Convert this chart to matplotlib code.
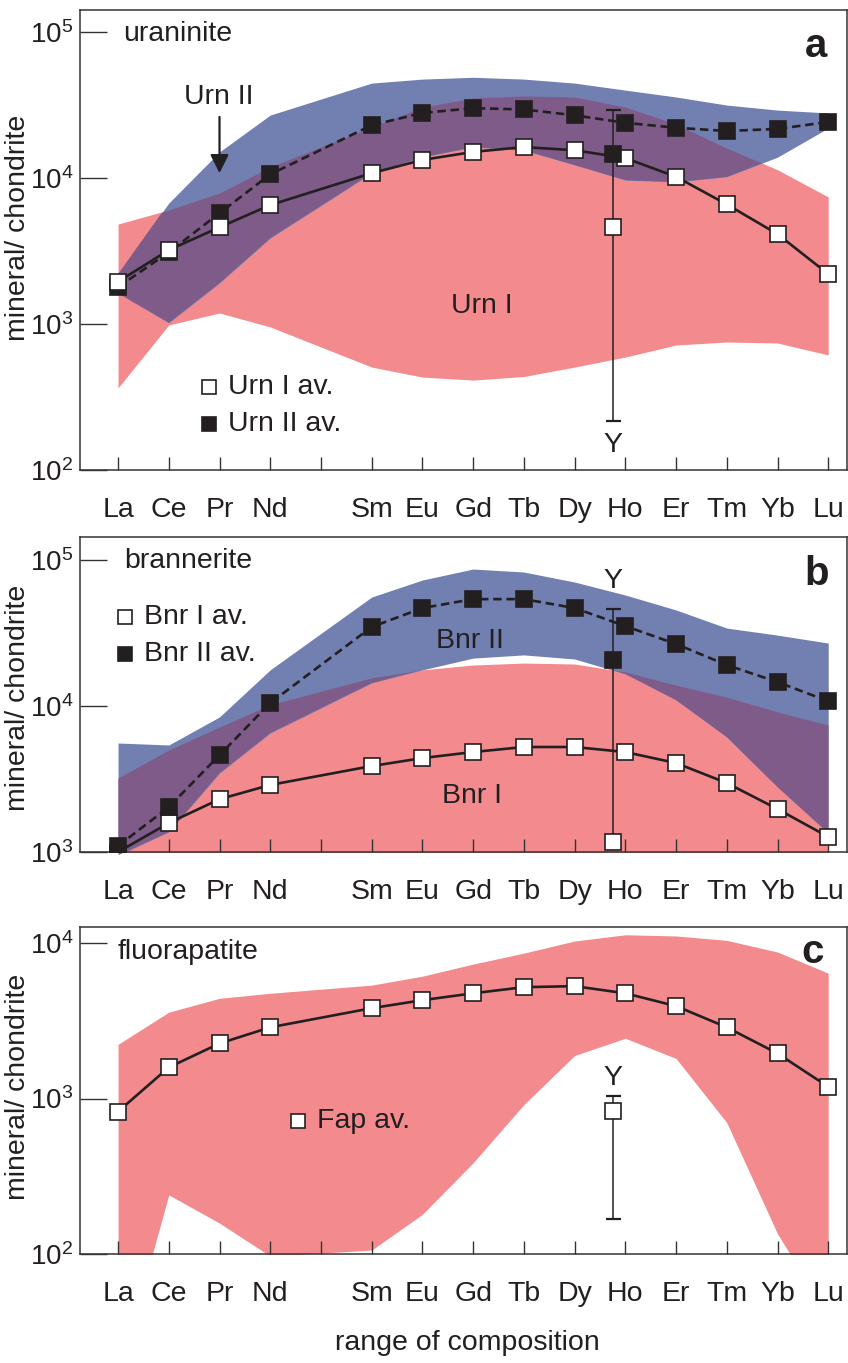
import matplotlib
matplotlib.use('Agg')
import matplotlib.pyplot as plt
from matplotlib.ticker import NullLocator, FixedLocator
import numpy as np

plt.rcParams['font.family'] = ['Liberation Sans', 'DejaVu Sans']
plt.rcParams['mathtext.fontset'] = 'custom'
plt.rcParams['mathtext.rm'] = 'Liberation Sans'
plt.rcParams['mathtext.it'] = 'Liberation Sans:italic'
plt.rcParams['mathtext.bf'] = 'Liberation Sans:bold'

# REE in order, x from atomic number (La=57), Pm has a tick but no data
ree = ['La', 'Ce', 'Pr', 'Nd', 'Sm', 'Eu', 'Gd', 'Tb', 'Dy', 'Ho', 'Er', 'Tm', 'Yb', 'Lu']
z_num = [57, 58, 59, 60, 62, 63, 64, 65, 66, 67, 68, 69, 70, 71]
tick_labels = ['La', 'Ce', 'Pr', 'Nd', '', 'Sm', 'Eu', 'Gd', 'Tb', 'Dy', 'Ho', 'Er', 'Tm', 'Yb', 'Lu']

# a) uraninite
urn1_av = [1950, 3210, 4600, 6530, 10800, 13300, 15100, 16300, 15500, 13700, 10200, 6600, 4130, 2200]
urn2_av = [1790, 3100, 5750, 10600, 23000, 27900, 30100, 29500, 26900, 23900, 22100, 21000, 21700, 24200]
urn1_hi = [4840, 6040, 7890, 11900, 22300, 30600, 35300, 36500, 35900, 30600, 23400, 16000, 11400, 7420]
urn1_lo = [365, 985, 1190, 955, 507, 433, 413, 437, 507, 594, 718, 753, 741, 614]
urn2_hi = [2200, 6740, 15100, 27000, 44700, 47600, 49000, 47600, 44700, 40000, 35900, 31600, 29200, 27900]
urn2_lo = [1630, 1020, 1910, 3880, 10800, 13900, 16300, 15500, 12300, 9680, 9390, 10200, 13900, 22000]
urn_y = dict(open=4600, filled=14600, lo=217, hi=29200)

# b) brannerite
bnr1_av = [1000, 1580, 2300, 2880, 3880, 4400, 4840, 5240, 5240, 4840, 4070, 2970, 1970, 1270]
bnr2_av = [1100, 2030, 4610, 10500, 34800, 46900, 54000, 54000, 46900, 35300, 26600, 19100, 14600, 10800]
bnr1_hi = [3210, 5000, 7180, 10200, 15600, 17700, 19100, 19700, 19400, 17100, 13900, 11500, 9100, 7420]
bnr1_lo = [500] * 14
bnr2_hi = [5580, 5410, 8420, 17700, 55800, 73000, 86800, 82800, 70700, 57600, 45500, 34200, 30600, 27000]
bnr2_lo = [950, 1370, 3470, 6530, 14400, 17700, 21300, 22400, 21000, 16600, 11000, 6140, 2790, 1350]
bnr_y = dict(open=1170, filled=20600, lo=1170, hi=46100)

# c) fluorapatite
fap_av = [824, 1585, 2260, 2870, 3810, 4290, 4750, 5200, 5280, 4750, 3930, 2870, 1950, 1190]
fap_hi = [2230, 3590, 4410, 4750, 5360, 6120, 7320, 8610, 10300, 11300, 11100, 10400, 8750, 6400]
fap_lo = [16, 240, 158, 97, 106, 180, 386, 914, 1890, 2440, 1810, 700, 135, 40]
fap_y = dict(open=837, lo=168, hi=1045)

PINK = '#F38B8E'
BLUE = '#717FB1'
PURPLE = '#7F5B89'
INK = '#231f20'
Y_X = 9.76

x = np.array(z_num) - 57

W, H = 848, 1363
fig = plt.figure(figsize=(W / 100, H / 100), dpi=100)


def add_ax(top, bottom, ymin, ymax):
    ax = fig.add_axes([80 / W, 1 - bottom / H, 767 / W, (bottom - top) / H])
    ax.set_yscale('log')
    ax.set_ylim(ymin, ymax)
    ax.set_xlim(-0.75, 14.37)
    ax.xaxis.set_major_locator(FixedLocator(range(15)))
    ax.set_xticklabels(tick_labels)
    ax.yaxis.set_minor_locator(NullLocator())
    ax.tick_params(axis='x', direction='in', length=9.5, width=1, colors='#333333',
                   labelcolor=INK, labelsize=20.5, pad=19.5)
    ax.tick_params(axis='y', direction='in', length=19.5, width=1, colors='#333333',
                   labelcolor=INK, labelsize=20, pad=5)
    for s in ax.spines.values():
        s.set_linewidth(1.1)
        s.set_color('#333333')
    ax.set_ylabel('mineral/ chondrite', fontsize=20.5, color=INK)
    return ax


def bands(ax, lo1, hi1, lo2=None, hi2=None):
    ax.fill_between(x, lo1, hi1, color=PINK, lw=0, zorder=1)
    if lo2 is None:
        return
    b = ax.fill_between(x, lo2, hi2, color=BLUE, lw=0, zorder=1.1)
    p = ax.fill_between(x, lo1, hi1, color=PURPLE, lw=0, zorder=1.2)
    p.set_clip_path(b.get_paths()[0], ax.transData)


def avg(ax, vals, filled, dashed, z=3):
    ax.plot(x, vals, color=INK, lw=1.9, ls=(0, (3.2, 1.8)) if dashed else '-',
            marker='s', ms=11, mew=1.2, mec=INK, mfc=INK if filled else 'white', zorder=z)


def ybar(ax, d, label_y):
    ax.errorbar([Y_X], [d['open']], yerr=[[d['open'] - d['lo']], [d['hi'] - d['open']]],
                fmt='none', ecolor=INK, elinewidth=1.1, capsize=5.4, capthick=1.6, zorder=2)
    if 'filled' in d:
        ax.plot([Y_X], [d['filled']], 's', ms=11, mew=1.2, mec=INK, mfc=INK, zorder=4)
    ax.plot([Y_X], [d['open']], 's', ms=11, mew=1.2, mec=INK, mfc='white', zorder=4)
    ax.text(Y_X, label_y, 'Y', transform=ax.get_xaxis_transform(), ha='center',
            va='baseline', fontsize=20.5, color=INK)


def key(ax, fx, fy, filled, text):
    ax.plot([fx], [fy], 's', transform=ax.transAxes, ms=9.5, mew=1.2, mec=INK,
            mfc=INK if filled else 'white', zorder=5, clip_on=False)
    ax.text(fx + 0.025, fy, text, transform=ax.transAxes, ha='left', va='center',
            fontsize=20.5, color=INK)


# ---- a
ax1 = add_ax(10, 470, 100, 10 ** 5.151)
bands(ax1, urn1_lo, urn1_hi, urn2_lo, urn2_hi)
avg(ax1, urn2_av, True, True, z=3)
avg(ax1, urn1_av, False, False, z=3.5)
ybar(ax1, urn_y, 0.039)
ax1.yaxis.set_label_coords(-0.064, 0.526)
ax1.text(0.056, 0.933, 'uraninite', transform=ax1.transAxes, fontsize=20.5, color=INK)
ax1.text(0.974, 0.898, 'a', transform=ax1.transAxes, ha='right', fontsize=29,
         fontweight='bold', color=INK)
ax1.text(0.181, 0.796, 'Urn II', transform=ax1.transAxes, ha='center', fontsize=20.5, color=INK)
ax1.text(0.524, 0.341, 'Urn I', transform=ax1.transAxes, ha='center', fontsize=20.5, color=INK)
ax1.annotate('', xy=(2, 10800), xytext=(2, 26200),
             arrowprops=dict(arrowstyle='-|>', color=INK, lw=1.6, mutation_scale=28,
                             shrinkA=0, shrinkB=0))
key(ax1, 0.168, 0.180, False, 'Urn I av.')
key(ax1, 0.168, 0.100, True, 'Urn II av.')

# ---- b
ax2 = add_ax(537, 852, 1000, 10 ** 5.158)
bands(ax2, bnr1_lo, bnr1_hi, bnr2_lo, bnr2_hi)
avg(ax2, bnr1_av, False, False, z=3)
avg(ax2, bnr2_av, True, True, z=3.5)
ybar(ax2, bnr_y, 0.838)
ax2.yaxis.set_label_coords(-0.064, 0.49)
ax2.text(0.057, 0.902, 'brannerite', transform=ax2.transAxes, fontsize=20.5, color=INK)
ax2.text(0.977, 0.848, 'b', transform=ax2.transAxes, ha='right', fontsize=29,
         fontweight='bold', color=INK)
ax2.text(0.508, 0.648, 'Bnr II', transform=ax2.transAxes, ha='center', fontsize=20.5, color=INK)
ax2.text(0.511, 0.156, 'Bnr I', transform=ax2.transAxes, ha='center', fontsize=20.5, color=INK)
key(ax2, 0.0587, 0.746, False, 'Bnr I av.')
key(ax2, 0.0587, 0.629, True, 'Bnr II av.')

# ---- c
ax3 = add_ax(927, 1254, 100, 10 ** 4.103)
bands(ax3, fap_lo, fap_hi)
avg(ax3, fap_av, False, False)
ybar(ax3, fap_y, 0.517)
ax3.yaxis.set_label_coords(-0.064, 0.51)
ax3.text(0.0495, 0.902, 'fluorapatite', transform=ax3.transAxes, fontsize=20.5, color=INK)
ax3.text(0.970, 0.89, 'c', transform=ax3.transAxes, ha='right', fontsize=29,
         fontweight='bold', color=INK)
key(ax3, 0.284, 0.407, False, 'Fap av.')

fig.text(467 / W, 1 - 1343 / H, 'range of composition', ha='center', va='center',
         fontsize=20.5, color=INK)

fig.savefig('out.png', dpi=100)
